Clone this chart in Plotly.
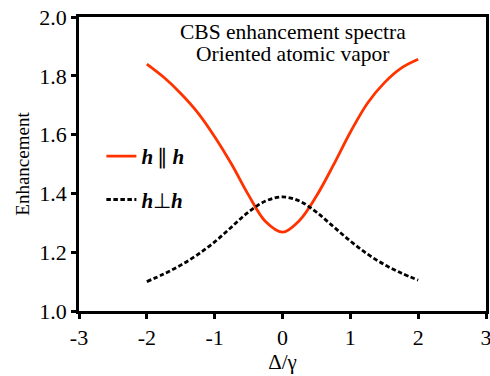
import plotly.graph_objects as go

# Detuning (in units of the linewidth) and CBS enhancement for both polarisation channels
detuning = [-2.0, -1.75, -1.5, -1.25, -1.0, -0.75, -0.5, -0.25, 0.0,
            0.25, 0.5, 0.75, 1.0, 1.25, 1.5, 1.75, 2.0]
enh_parallel = [1.840, 1.795, 1.740, 1.675, 1.593, 1.499, 1.394, 1.304, 1.268,
                1.308, 1.391, 1.496, 1.608, 1.706, 1.776, 1.826, 1.856]
enh_perp = [1.100, 1.126, 1.156, 1.192, 1.235, 1.286, 1.337, 1.374, 1.388,
            1.374, 1.336, 1.287, 1.238, 1.194, 1.158, 1.129, 1.105]

x_ticks = [-3, -2, -1, 0, 1, 2, 3]
y_ticks = [1.0, 1.2, 1.4, 1.6, 1.8, 2.0]

title_lines = ["CBS enhancement spectra", "Oriented atomic vapor"]

serif = "Liberation Serif"
tick_font = dict(family=serif, size=22, color="black")

fig = go.Figure()
fig.add_trace(go.Scatter(
    x=detuning, y=enh_parallel, mode="lines", line_shape="spline",
    line=dict(color="#ff3300", width=2.8),
    name="<b><i>h</i></b>\u2009\u2225\u2009<b><i>h</i></b>", legendgroup="a",
))
fig.add_trace(go.Scatter(
    x=detuning, y=enh_perp, mode="lines", line_shape="spline",
    line=dict(color="black", width=2.8, dash="4.5px,2.5px"),
    name="<b><i>h</i></b>\u22a5<b><i>h</i></b>", legendgroup="b",
))

axis_common = dict(
    showgrid=False, zeroline=False, showline=True, mirror=True,
    linecolor="black", linewidth=2.5,
    ticks="outside", ticklen=5, tickwidth=2.5, tickcolor="black",
    tickfont=tick_font, ticklabeloverflow="allow",
)

fig.update_layout(
    template="none",
    width=490, height=376,
    margin=dict(l=79, r=4, t=17, b=65),
    paper_bgcolor="white", plot_bgcolor="white",
    font=dict(family=serif, size=20, color="black"),
    xaxis=dict(range=[-3, 3], tickvals=x_ticks,
               ticktext=[str(v) for v in x_ticks],
               title=dict(text="Δ/γ", font=dict(family=serif, size=21), standoff=0),
               **axis_common),
    yaxis=dict(range=[1.0, 2.0], tickvals=y_ticks,
               ticktext=[f"{v:.1f}" for v in y_ticks],
               title=dict(text="Enhancement", font=dict(family=serif, size=19), standoff=5),
               **axis_common),
    showlegend=True,
    legend=dict(x=0.055, y=0.595, xanchor="left", yanchor="top",
                bgcolor="rgba(0,0,0,0)", tracegroupgap=13,
                font=dict(family=serif, size=21, color="black"),
                itemwidth=30),
)

# two-line caption, one annotation per line for tight line spacing
for line, ypos in zip(title_lines, [0.949, 0.874]):
    fig.add_annotation(
        text=line, xref="paper", yref="paper", x=0.525, y=ypos,
        xanchor="center", yanchor="middle", showarrow=False,
        font=dict(family=serif, size=21.5, color="black"),
    )

fig.write_html("out.html")
